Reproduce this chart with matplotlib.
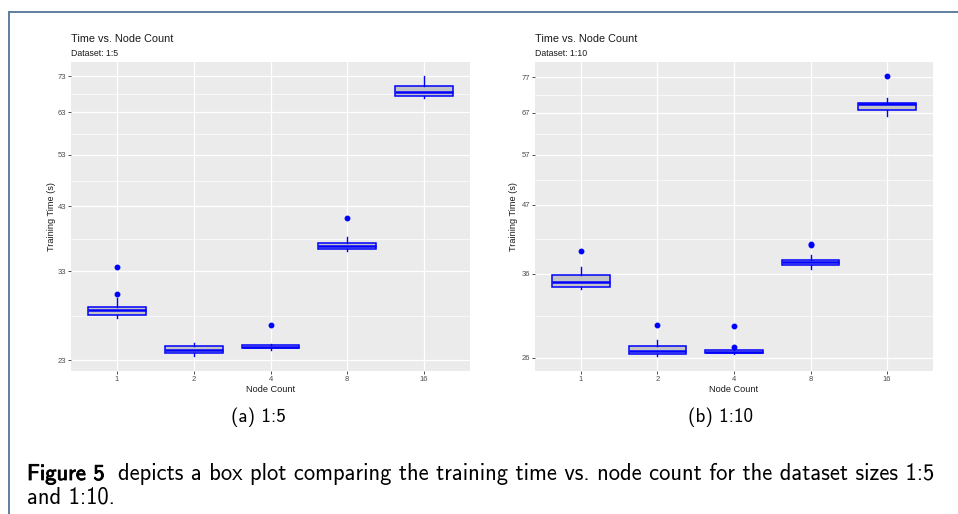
import numpy as np
import matplotlib
matplotlib.use('Agg')
import matplotlib.pyplot as plt
import matplotlib.patheffects as pe
from matplotlib.lines import Line2D
from matplotlib.ticker import FixedLocator, NullFormatter

# Node counts on the x axis
nodes = ['1', '2', '4', '8', '16']

# Dataset 1:5 box statistics (seconds)
lo_5 = [27.33, 23.39, 24.01, 35.81, 66.7]
q1_5 = [27.67, 23.68, 24.11, 36.16, 67.2]
med_5 = [28.16, 23.97, 24.27, 36.61, 68.5]
q3_5 = [28.58, 24.33, 24.43, 37.04, 70.2]
hi_5 = [29.65, 24.63, 24.53, 37.90, 72.9]
out_5 = [[30.13, 33.65], [], [26.50], [40.94], []]
ticks_5 = [23, 33, 43, 53, 63, 73]

# Dataset 1:10 box statistics (seconds)
lo_10 = [33.98, 26.17, 26.38, 36.58, 66.2]
q1_10 = [34.17, 26.33, 26.48, 37.15, 67.8]
med_10 = [34.91, 26.64, 26.62, 37.68, 69.4]
q3_10 = [35.87, 27.24, 26.75, 37.97, 69.7]
hi_10 = [37.00, 27.81, 26.85, 38.71, 71.1]
out_10 = [[39.32], [29.54], [27.06, 29.35], [40.23, 40.3], [77.2]]
ticks_10 = [26, 36, 47, 57, 67, 77]

W, H = 958, 514
fig = plt.figure(figsize=(W / 100, H / 100), dpi=100)
fig.patch.set_facecolor('white')


def fx(x):
    return x / W


def fy(y):
    return 1 - y / H


def panel(x0, x1, lo, q1, med, q3, hi, out, ticks, ylim, title, subtitle, ylab_x):
    ax = fig.add_axes([fx(x0), fy(371), fx(x1 - x0), (371 - 62) / H])
    ax.set_facecolor('#EBEBEB')
    for s in ax.spines.values():
        s.set_visible(False)
    stats = []
    for i in range(len(nodes)):
        stats.append(dict(whislo=lo[i], q1=q1[i], med=med[i], q3=q3[i],
                          whishi=hi[i], fliers=out[i]))
    ax.bxp(stats, positions=range(1, len(nodes) + 1), widths=0.75,
           patch_artist=True, showcaps=False,
           boxprops=dict(facecolor='#C4C4C4', edgecolor='blue', linewidth=1.1),
           medianprops=dict(color='blue', linewidth=1.8),
           whiskerprops=dict(color='blue', linewidth=1.0),
           flierprops=dict(marker='o', markerfacecolor='blue', markeredgecolor='blue',
                           markersize=3.2))
    ax.set_yscale('log')
    ax.set_ylim(*ylim)
    ax.set_xlim(0.4, len(nodes) + 0.6)
    ax.yaxis.set_major_locator(FixedLocator(ticks))
    ax.set_yticklabels([str(t) for t in ticks])
    lt = np.log10(ticks)
    minors = 10 ** ((lt[:-1] + lt[1:]) / 2)
    ax.yaxis.set_minor_locator(FixedLocator(minors))
    ax.yaxis.set_minor_formatter(NullFormatter())
    ax.set_xticks(range(1, len(nodes) + 1))
    ax.set_xticklabels(nodes)
    ax.grid(True, which='major', color='white', linewidth=0.9)
    ax.grid(True, which='minor', axis='y', color='white', linewidth=0.5)
    ax.set_axisbelow(True)
    ax.tick_params(which='major', length=2.2, width=0.6, color='#333333',
                   labelsize=5.5, labelcolor='#4D4D4D', pad=1.2)
    ax.tick_params(which='minor', length=0)
    for l in ax.get_xticklabels() + ax.get_yticklabels():
        l.set_family('Liberation Sans')
    fig.text(fx(x0), fy(42.3), title, family='Liberation Sans', fontsize=7.8,
             color='#1a1a1a', va='baseline')
    fig.text(fx(x0), fy(55.7), subtitle, family='Liberation Sans', fontsize=6.3,
             color='#1a1a1a', va='baseline')
    fig.text(fx((x0 + x1) / 2), fy(389), 'Node Count', family='Liberation Sans',
             fontsize=6.6, ha='center', va='center', color='#1a1a1a')
    fig.text(fx(ylab_x), fy(216.5), 'Training Time (s)', family='Liberation Sans',
             fontsize=6.6, ha='center', va='center', rotation=90, color='#1a1a1a')
    return ax


panel(71, 470, lo_5, q1_5, med_5, q3_5, hi_5, out_5, ticks_5, (22.0, 77.3),
      'Time vs. Node Count', 'Dataset: 1:5', 51.5)
panel(535, 933, lo_10, q1_10, med_10, q3_10, hi_10, out_10, ticks_10, (24.7, 81.6),
      'Time vs. Node Count', 'Dataset: 1:10', 514)

# page frame
frame = '#5f7f9f'
fig.add_artist(Line2D([fx(9), fx(W)], [fy(12), fy(12)], color=frame, linewidth=1.4))
fig.add_artist(Line2D([fx(9), fx(9)], [fy(12), fy(H)], color=frame, linewidth=1.4))

sub = dict(family='cmss10', fontsize=13.8, color='black')
fig.text(fx(258.5), fy(417), '(a) 1:5', ha='center', va='center', **sub)
fig.text(fx(721), fy(417), '(b) 1:10', ha='center', va='center', **sub)

cap = dict(family='cmss10', fontsize=16.25, color='black')
bold = fig.text(fx(27), fy(480), 'Figure 5', va='baseline', **cap)
bold.set_path_effects([pe.withStroke(linewidth=0.6, foreground='black')])
fig.canvas.draw()
bb = bold.get_window_extent(renderer=fig.canvas.get_renderer())
fig.text(fx(bb.x1 + 13), fy(480),
         'depicts a box plot comparing the training time vs. node count for the dataset sizes 1:5',
         va='baseline', **cap)
fig.text(fx(27), fy(504), 'and 1:10.', va='baseline', **cap)

fig.savefig('out.png', dpi=100)
